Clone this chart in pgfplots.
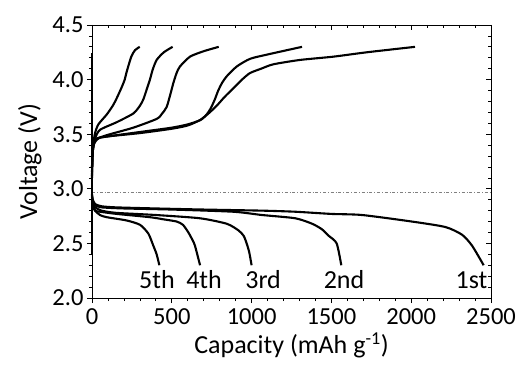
\documentclass[border=0pt]{standalone}
\usepackage{pgfplots}
\pgfplotsset{compat=1.18}
\usepackage{fontspec}
\setmainfont{Carlito}
\begin{document}
\begin{tikzpicture}
\useasboundingbox (-92pt,-66pt) rectangle (432pt,298pt);
\pgfplotsset{
  common/.style={
    scale only axis, width=399pt, height=273pt,
    xmin=0, xmax=2500, ymin=2.0, ymax=4.5,
    xtick={0,500,...,2500}, ytick={2.0,2.5,...,4.5},
    minor x tick num=4, minor y tick num=4,
    major tick length=5pt, minor tick length=3pt,
    every tick/.style={black, line width=0.7pt},
    axis line style={line width=0.9pt},
    clip=false,
  },
  cur/.style={black, line width=2.1pt, smooth, tension=0.4, mark=none},
}
\begin{axis}[common,
  axis x line*=top, axis y line*=right,
  tick align=inside, xticklabels={}, yticklabels={},
]
\end{axis}
\begin{axis}[common,
  xtick pos=bottom, ytick pos=left, tick align=outside,
  /pgf/number format/assume math mode=true,
  ticklabel style={font=\fontsize{24.5}{28}\selectfont},
  yticklabel style={/pgf/number format/.cd, fixed, fixed zerofill, precision=1},
  xticklabel style={yshift=-2pt, /pgf/number format/.cd, fixed, 1000 sep={}},
  xlabel={Capacity (mAh g\textsuperscript{-1})},
  ylabel={Voltage (V)},
  label style={font=\fontsize{26}{30}\selectfont},
  xlabel style={yshift=-1pt},
  ylabel style={yshift=4pt},
]
% reference line
\addplot[gray, line width=0.7pt, dash dot] coordinates {(0,2.97)(2500,2.97)};
% vertical segment at zero capacity
\addplot[black, line width=2.1pt] coordinates {(0,2.40)(0,4.24)};
% charge curves
\addplot[cur] coordinates {(0,3.10)(3,3.30)(10,3.40)(30,3.46)(100,3.48)(300,3.51)(500,3.55)(600,3.58)(677,3.63)(730,3.69)(781,3.76)(830,3.84)(885,3.92)(940,4.00)(990,4.06)(1060,4.10)(1136,4.14)(1303,4.18)(1512,4.21)(1721,4.25)(2024,4.30)};
\addplot[cur] coordinates {(0,3.12)(3,3.30)(10,3.41)(30,3.46)(100,3.48)(300,3.52)(500,3.56)(600,3.59)(680,3.63)(718,3.68)(745,3.74)(770,3.82)(791,3.90)(815,3.97)(844,4.03)(907,4.12)(990,4.19)(1100,4.23)(1316,4.30)};
\addplot[cur] coordinates {(0,3.15)(3,3.30)(10,3.40)(25,3.44)(50,3.47)(113,3.50)(259,3.56)(405,3.64)(440,3.69)(468,3.75)(490,3.86)(510,3.97)(530,4.06)(551,4.12)(614,4.21)(700,4.26)(794,4.30)};
\addplot[cur] coordinates {(0,3.20)(5,3.35)(19,3.46)(50,3.54)(155,3.61)(259,3.69)(300,3.76)(322,3.82)(345,3.92)(363,4.00)(380,4.09)(405,4.18)(450,4.25)(505,4.30)};
\addplot[cur] coordinates {(0,3.20)(5,3.38)(19,3.51)(40,3.59)(92,3.68)(130,3.76)(155,3.83)(186,3.93)(205,4.00)(217,4.07)(246,4.21)(270,4.27)(299,4.30)};
% discharge curves
\addplot[cur] coordinates {(0,2.95)(5,2.90)(20,2.86)(60,2.84)(150,2.83)(400,2.82)(700,2.81)(1065,2.80)(1274,2.79)(1500,2.77)(1692,2.76)(2005,2.70)(2214,2.65)(2318,2.58)(2381,2.48)(2454,2.30)};
\addplot[cur] coordinates {(0,2.94)(5,2.89)(20,2.85)(60,2.83)(200,2.82)(500,2.81)(885,2.79)(1065,2.76)(1274,2.73)(1379,2.68)(1440,2.63)(1483,2.57)(1533,2.50)(1562,2.30)};
\addplot[cur] coordinates {(0,2.93)(5,2.87)(20,2.83)(60,2.80)(150,2.78)(400,2.76)(677,2.73)(844,2.68)(917,2.62)(950,2.57)(969,2.50)(985,2.42)(1000,2.30)};
\addplot[cur] coordinates {(0,2.92)(5,2.85)(20,2.80)(50,2.79)(155,2.77)(363,2.74)(450,2.72)(531,2.70)(570,2.67)(604,2.60)(630,2.53)(645,2.48)(677,2.30)};
\addplot[cur] coordinates {(0,2.90)(5,2.84)(19,2.80)(50,2.76)(92,2.74)(217,2.71)(301,2.67)(353,2.59)(384,2.48)(405,2.40)(422,2.30)};
% cycle labels
\node[font=\fontsize{26}{30}\selectfont] at (axis cs:407,2.165) {5th};
\node[font=\fontsize{26}{30}\selectfont] at (axis cs:702,2.165) {4th};
\node[font=\fontsize{26}{30}\selectfont] at (axis cs:1072,2.165) {3rd};
\node[font=\fontsize{26}{30}\selectfont] at (axis cs:1579,2.165) {2nd};
\node[font=\fontsize{26}{30}\selectfont] at (axis cs:2378,2.165) {1st};
\end{axis}
\end{tikzpicture}
\end{document}
